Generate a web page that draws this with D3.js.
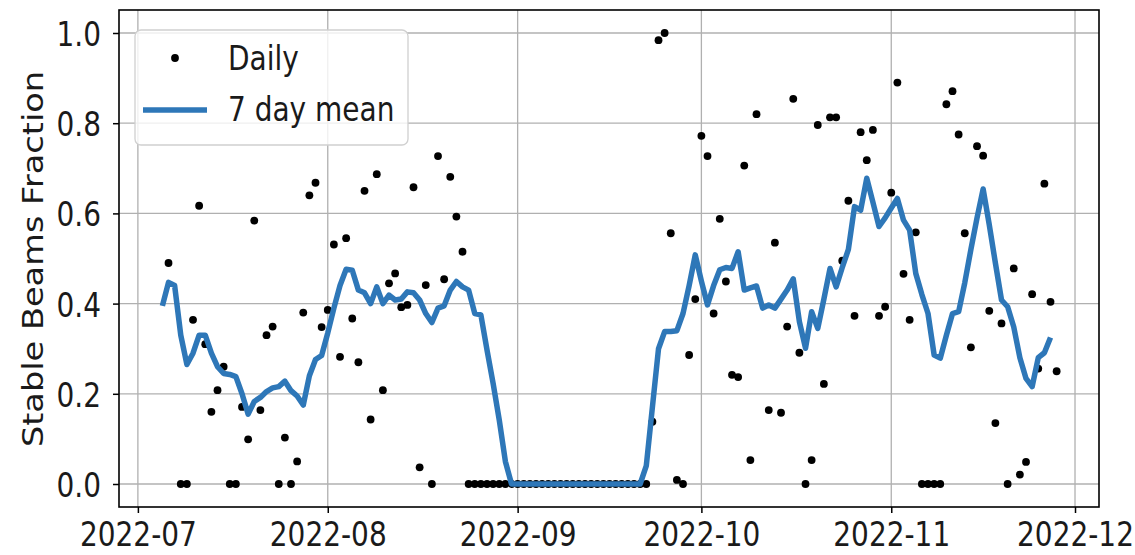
<!DOCTYPE html>
<html>
<head>
<meta charset="utf-8">
<script src="https://cdn.jsdelivr.net/npm/d3@7"></script>
<style>
  body { margin: 0; background: #fff; }
  svg { display: block; }
</style>
</head>
<body>
<script>
// daily values, one per day from dailyStart (null = no point visible)
const dailyStart = "2022-07-06";
const dailyValues = [
    0.49, null, 0, 0, 0.364, 0.617, 0.31, 0.16, 0.208, 0.26,
    0, 0, 0.171, 0.099, 0.584, 0.164, 0.33, 0.349, 0, 0.103,
    0, 0.05, 0.38, 0.64, 0.668, 0.348, 0.386, 0.531, 0.282, 0.545,
    0.367, 0.27, 0.65, 0.143, 0.687, 0.208, 0.445, 0.467, 0.392, 0.397,
    0.658, 0.037, 0.441, 0, 0.727, 0.454, 0.681, 0.593, 0.515, 0,
    0, 0, 0, 0, 0, 0, 0, 0, 0, 0,
    0, 0, 0, 0, 0, 0, 0, 0, 0, 0,
    0, 0, 0, 0, 0, 0, 0, 0, 0, 0.138,
    0.984, 1.0, 0.556, 0.009, 0, 0.286, 0.41, 0.772, 0.727, 0.378,
    0.588, 0.449, 0.242, 0.237, 0.706, 0.053, 0.82, null, 0.164, 0.535,
    0.158, 0.349, 0.854, 0.291, 0, 0.053, 0.796, 0.222, 0.813, 0.813,
    0.495, 0.628, 0.373, 0.78, 0.718, 0.785, 0.373, 0.393, 0.646, 0.89,
    0.466, 0.364, 0.558, 0, 0, 0, 0, 0.842, 0.871, 0.775,
    0.556, 0.303, 0.749, 0.728, 0.384, 0.135, 0.356, 0, 0.478, 0.021,
    0.049, 0.421, 0.256, 0.666, 0.404, 0.25
];

// 7 day mean, one per day from meanStart
const meanStart = "2022-07-05";
const meanValues = [
    0.395, 0.447, 0.44, 0.33, 0.265, 0.29, 0.33, 0.33, 0.29, 0.26,
    0.245, 0.243, 0.238, 0.2, 0.155, 0.183, 0.192, 0.205, 0.213, 0.216,
    0.228, 0.207, 0.195, 0.175, 0.24, 0.276, 0.285, 0.335, 0.39, 0.44,
    0.476, 0.474, 0.43, 0.424, 0.4, 0.437, 0.4, 0.419, 0.408, 0.41,
    0.426, 0.424, 0.408, 0.378, 0.358, 0.39, 0.395, 0.43, 0.449, 0.437,
    0.43, 0.378, 0.375, 0.297, 0.223, 0.142, 0.05, 0, 0, 0,
    0, 0, 0, 0, 0, 0, 0, 0, 0, 0,
    0, 0, 0, 0, 0, 0, 0, 0, 0, 0.04,
    0.17, 0.30, 0.338, 0.338, 0.34, 0.378, 0.44, 0.508, 0.45, 0.397,
    0.44, 0.475, 0.48, 0.478, 0.515, 0.43, 0.435, 0.439, 0.39, 0.397,
    0.39, 0.41, 0.43, 0.455, 0.36, 0.301, 0.382, 0.345, 0.41, 0.478,
    0.437, 0.48, 0.52, 0.615, 0.607, 0.678, 0.625, 0.571, 0.59, 0.612,
    0.633, 0.585, 0.563, 0.467, 0.42, 0.378, 0.286, 0.279, 0.33, 0.378,
    0.382, 0.446, 0.52, 0.59, 0.654, 0.575, 0.49, 0.408, 0.393, 0.348,
    0.28, 0.234, 0.216, 0.28, 0.291, 0.325
];

const xTicks = ["2022-07-01", "2022-08-01", "2022-09-01", "2022-10-01", "2022-11-01", "2022-12-01"];
const yTicks = [0.0, 0.2, 0.4, 0.6, 0.8, 1.0];
const legendLabels = ["Daily", "7 day mean"];
const yLabel = "Stable Beams Fraction";

document.addEventListener("DOMContentLoaded", function () {
    const width = 1135, height = 555;
    const left = 119, right = 1099, top = 10, bottom = 507;
    const font = "DejaVu Sans";
    const fontSize = 28;
    const stretch = 1.2;      // the picture is stretched vertically
    const blue = "#2e77b8";

    const parse = d3.timeParse("%Y-%m-%d");

    const daily = dailyValues
        .map((v, i) => ({ date: d3.timeDay.offset(parse(dailyStart), i), value: v }))
        .filter(d => d.value !== null);
    const mean = meanValues
        .map((v, i) => ({ date: d3.timeDay.offset(parse(meanStart), i), value: v }));
    const tickDates = xTicks.map(parse);

    const x = d3.scaleTime()
        .domain([d3.timeHour.offset(parse("2022-06-27"), 22), d3.timeHour.offset(parse("2022-12-04"), 22)])
        .range([left, right]);
    const y = d3.scaleLinear()
        .domain([-0.051, 1.051])
        .range([bottom, top]);

    const svg = d3.select("body")
        .append("svg")
        .attr("width", width)
        .attr("height", height)
        .style("font-family", font);

    svg.append("rect")
        .attr("width", width)
        .attr("height", height)
        .attr("fill", "#fff");

    // grid
    svg.append("g")
        .selectAll("line")
        .data(tickDates)
        .join("line")
        .attr("x1", d => x(d))
        .attr("x2", d => x(d))
        .attr("y1", top)
        .attr("y2", bottom)
        .attr("stroke", "#b0b0b0")
        .attr("stroke-width", 1.3);

    svg.append("g")
        .selectAll("line")
        .data(yTicks)
        .join("line")
        .attr("x1", left)
        .attr("x2", right)
        .attr("y1", d => y(d))
        .attr("y2", d => y(d))
        .attr("stroke", "#b0b0b0")
        .attr("stroke-width", 1.3);

    // daily points
    svg.append("g")
        .selectAll("circle")
        .data(daily)
        .join("circle")
        .attr("cx", d => x(d.date))
        .attr("cy", d => y(d.value))
        .attr("r", 3.9)
        .attr("fill", "#000");

    // 7 day mean
    const line = d3.line()
        .x(d => x(d.date))
        .y(d => y(d.value));

    svg.append("path")
        .datum(mean)
        .attr("d", line)
        .attr("fill", "none")
        .attr("stroke", blue)
        .attr("stroke-width", 5.5)
        .attr("stroke-linejoin", "round");

    // axes
    const xAxis = svg.append("g")
        .attr("transform", `translate(0,${bottom})`)
        .call(d3.axisBottom(x)
            .tickValues(tickDates)
            .tickFormat(d3.timeFormat("%Y-%m"))
            .tickSize(6)
            .tickSizeOuter(0));
    xAxis.select(".domain").remove();
    xAxis.selectAll(".tick line").attr("stroke", "#000").attr("stroke-width", 1.5);
    xAxis.selectAll(".tick text")
        .attr("y", null)
        .attr("dy", null)
        .attr("transform", `translate(0,39) scale(1,${stretch})`)
        .attr("font-size", fontSize)
        .attr("font-family", font)
        .attr("fill", "#1a1a1a");

    const yAxis = svg.append("g")
        .attr("transform", `translate(${left},0)`)
        .call(d3.axisLeft(y)
            .tickValues(yTicks)
            .tickFormat(d3.format(".1f"))
            .tickSize(6)
            .tickSizeOuter(0));
    yAxis.select(".domain").remove();
    yAxis.selectAll(".tick line").attr("stroke", "#000").attr("stroke-width", 1.5);
    yAxis.selectAll(".tick text")
        .attr("x", null)
        .attr("dy", null)
        .attr("transform", `translate(-18,12.5) scale(1,${stretch})`)
        .attr("font-size", fontSize)
        .attr("font-family", font)
        .attr("fill", "#1a1a1a");

    // frame
    svg.append("rect")
        .attr("x", left)
        .attr("y", top)
        .attr("width", right - left)
        .attr("height", bottom - top)
        .attr("fill", "none")
        .attr("stroke", "#000")
        .attr("stroke-width", 1.6);

    // y label
    svg.append("text")
        .attr("transform", `translate(43,${(60 + 458) / 2}) rotate(-90) scale(${stretch},1)`)
        .attr("text-anchor", "middle")
        .attr("font-size", fontSize)
        .attr("fill", "#1a1a1a")
        .text(yLabel);

    // legend
    const legend = svg.append("g");
    legend.append("rect")
        .attr("x", 135)
        .attr("y", 30)
        .attr("width", 273)
        .attr("height", 115)
        .attr("rx", 6)
        .attr("fill", "#fff")
        .attr("fill-opacity", 0.8)
        .attr("stroke", "#d0d0d0")
        .attr("stroke-width", 1.3);

    legend.append("circle")
        .attr("cx", 175)
        .attr("cy", 58)
        .attr("r", 3.9)
        .attr("fill", "#000");

    legend.append("line")
        .attr("x1", 143)
        .attr("x2", 207)
        .attr("y1", 110)
        .attr("y2", 110)
        .attr("stroke", blue)
        .attr("stroke-width", 5.5);

    legend.selectAll("text")
        .data(legendLabels)
        .join("text")
        .attr("transform", (d, i) => `translate(228,${i === 0 ? 70 : 121}) scale(1,${stretch})`)
        .attr("font-size", fontSize)
        .attr("fill", "#1a1a1a")
        .text(d => d);
});
</script>
</body>
</html>
